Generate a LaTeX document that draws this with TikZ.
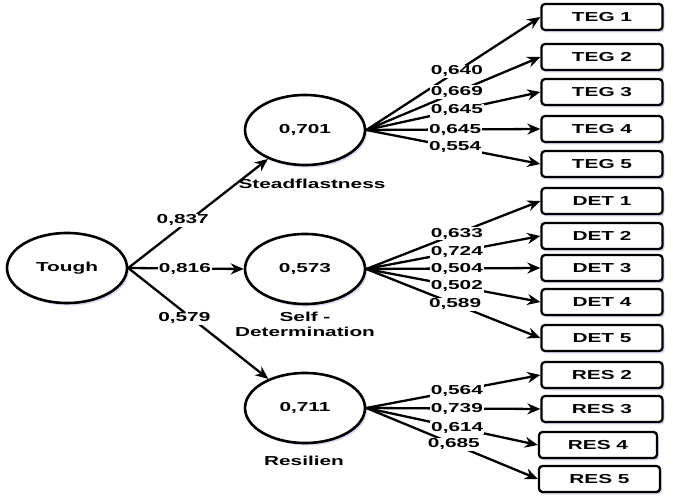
\documentclass[tikz,border=0pt]{standalone}
\usepackage{fontspec}
\setmainfont{Liberation Sans}[FakeStretch=1.6]
\usetikzlibrary{arrows.meta,shapes.geometric,shadows}
\begin{document}
\begin{tikzpicture}[x=1pt,y=-1pt,
  txt/.style={font=\bfseries\fontsize{13}{15}\selectfont},
  shad/.style={drop shadow={shadow xshift=2pt,shadow yshift=-2.5pt,opacity=0.22,fill=blue!40!gray}},
  lat/.style={ellipse,draw,line width=2.6pt,minimum width=120pt,minimum height=70pt,inner sep=0pt,txt,fill=white,shad},
  ind/.style={draw,rounded corners=3.5pt,line width=2.3pt,minimum width=121pt,minimum height=26pt,inner sep=0pt,txt,fill=white,shad},
  ar/.style={line width=2.3pt,-{Stealth[length=13pt,width=11pt]}},
  wl/.style={fill=white,inner sep=1pt,txt},
  captxt/.style={txt,align=center}]
\useasboundingbox (0,0) rectangle (673,502);
% latent variables
\node[lat] (T) at (67,268) {Tough};
\node[lat] (S1) at (305,130) {0,701};
\node[lat] (S2) at (305,269) {0,573};
\node[lat] (S3) at (305,408) {0,711};
\node[captxt] (c1) at (312,184) {Steadflastness};
\node[captxt] (c2) at (305,324) {Self -\\Determination};
\node[captxt] (c3) at (304,461) {Resilien};
% indicators
\node[ind] (t1) at (602,17) {TEG 1};
\node[ind] (t2) at (602,57) {TEG 2};
\node[ind] (t3) at (602,92) {TEG 3};
\node[ind] (t4) at (602,129) {TEG 4};
\node[ind] (t5) at (602,164) {TEG 5};
\node[ind] (d1) at (602,201) {DET 1};
\node[ind] (d2) at (602,236) {DET 2};
\node[ind] (d3) at (602,268) {DET 3};
\node[ind] (d4) at (602,302) {DET 4};
\node[ind] (d5) at (602,338) {DET 5};
\node[ind] (r2) at (602,375) {RES 2};
\node[ind] (r3) at (602,409) {RES 3};
\node[ind,minimum width=118pt] (r4) at (598,445) {RES 4};
\node[ind] (r5) at (599.5,479) {RES 5};
% structural paths
\draw[ar] (T.east) -- node[wl,pos=0.39,yshift=5pt] {0,837} (S1);
\draw[ar] (T.east) -- node[wl,pos=0.49] {0,816} (S2.west);
\draw[ar] (T.east) -- node[wl,pos=0.40,yshift=-6pt] {0,579} (S3);
% loadings
\draw[ar] (S1.east) -- node[wl,pos=0.52] {0,640} (t1.west);
\draw[ar] (S1.east) -- node[wl,pos=0.52] {0,669} (t2.west);
\draw[ar] (S1.east) -- node[wl,pos=0.52] {0,645} (t3.west);
\draw[ar] (S1.east) -- node[wl,pos=0.51] {0,645} (t4.west);
\draw[ar] (S1.east) -- node[wl,pos=0.51] {0,554} (t5.west);
\draw[ar] (S2.east) -- node[wl,pos=0.52] {0,633} (d1.west);
\draw[ar] (S2.east) -- node[wl,pos=0.52] {0,724} (d2.west);
\draw[ar] (S2.east) -- node[wl,pos=0.52] {0,504} (d3.west);
\draw[ar] (S2.east) -- node[wl,pos=0.52] {0,502} (d4.west);
\draw[ar] (S2.east) -- node[wl,pos=0.51] {0,589} (d5.west);
\draw[ar] (S3.east) -- node[wl,pos=0.52] {0,564} (r2.west);
\draw[ar] (S3.east) -- node[wl,pos=0.52] {0,739} (r3.west);
\draw[ar] (S3.east) -- node[wl,pos=0.53] {0,614} (r4.west);
\draw[ar] (S3.east) -- node[wl,pos=0.51] {0,685} (r5.west);
\end{tikzpicture}
\end{document}
